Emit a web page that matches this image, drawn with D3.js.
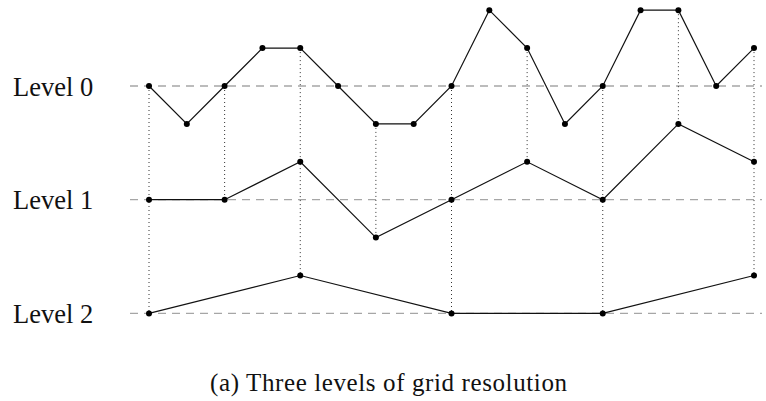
<!DOCTYPE html>
<html><head><meta charset="utf-8">
<script src="https://cdn.jsdelivr.net/npm/d3@7"></script>
<style>html,body{margin:0;padding:0;background:#fff;}svg{display:block;}</style>
</head><body>
<svg id="c" width="766" height="401"></svg>
<script>
const levelLabels = ["Level 0", "Level 1", "Level 2"];
const levelBase = [0, -3, -6];
const level0Idx = [0,1,2,3,4,5,6,7,8,9,10,11,12,13,14,15,16];
const level0Val = [0,-1,0,1,1,0,-1,-1,0,2,1,-1,0,2,2,0,1];
const level1Idx = [0,2,4,6,8,10,12,14,16];
const level1Val = [0,0,1,-1,0,1,0,2,1];
const level2Idx = [0,4,8,12,16];
const level2Val = [0,1,0,0,1];
const caption = "(a) Three levels of grid resolution";

const svg = d3.select("#c");
const x = d3.scaleLinear().domain([0,16]).range([149,754]);
const y = d3.scaleLinear().domain([-6,2]).range([313.4,10.2]);

const levels = [
  {idx: level0Idx, val: level0Val, base: levelBase[0]},
  {idx: level1Idx, val: level1Val, base: levelBase[1]},
  {idx: level2Idx, val: level2Val, base: levelBase[2]}
].map(L => L.idx.map((i,k) => ({i, v: L.val[k] + L.base, base: L.base})));

// dashed baselines
svg.selectAll("line.base").data(levelBase).join("line")
  .attr("x1",130).attr("x2",762)
  .attr("y1",d=>y(d)).attr("y2",d=>y(d))
  .attr("stroke","#a6a6a6").attr("stroke-width",1.3)
  .attr("stroke-dasharray","8,6");

// labels
svg.selectAll("text.lab").data(levelLabels).join("text")
  .attr("x",13).attr("y",(d,k)=>y(levelBase[k])+9.5)
  .attr("font-family","'Liberation Serif', serif").attr("font-size",26.5)
  .attr("fill","#111").text(d=>d);

// dotted verticals: from top level point to deepest level point at same index
const verts = level0Idx.filter(i => i % 2 === 0).map(i => {
  const top = levels[0].find(p=>p.i===i);
  let bottom = top;
  levels.forEach(L => { const p = L.find(q=>q.i===i); if (p) bottom = p; });
  return {i, y1: top.v, y2: bottom.v};
});
svg.selectAll("line.vert").data(verts).join("line")
  .attr("x1",d=>x(d.i)).attr("x2",d=>x(d.i))
  .attr("y1",d=>y(d.y1)).attr("y2",d=>y(d.y2))
  .attr("stroke","#333").attr("stroke-width",1)
  .attr("stroke-dasharray","1,3");

const line = d3.line().x(d=>x(d.i)).y(d=>y(d.v));
svg.selectAll("path.lv").data(levels).join("path")
  .attr("d",line).attr("fill","none")
  .attr("stroke","#111").attr("stroke-width",1.2);

svg.selectAll("g.pts").data(levels).join("g")
  .selectAll("circle").data(d=>d).join("circle")
  .attr("cx",d=>x(d.i)).attr("cy",d=>y(d.v)).attr("r",3).attr("fill","#000");

svg.append("text").attr("x",210).attr("y",391)
  .attr("font-family","'Liberation Serif', serif").attr("font-size",25)
  .attr("textLength",357).attr("lengthAdjust","spacing")
  .attr("fill","#111").text(caption);
</script>
</body></html>
